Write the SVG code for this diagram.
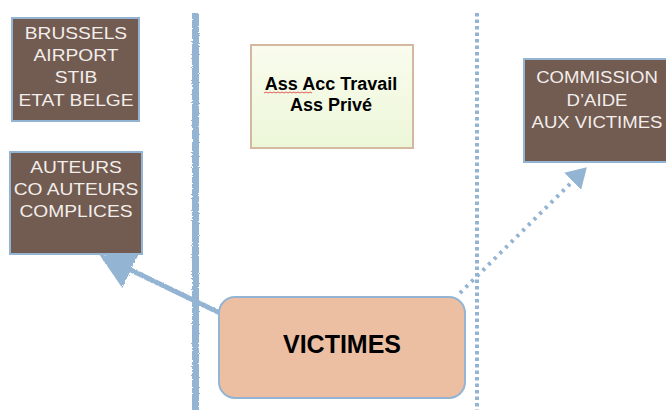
<svg xmlns="http://www.w3.org/2000/svg" width="666" height="410" viewBox="0 0 666 410">
<style>
.brown{fill:#725b50;stroke:#93b4d2;stroke-width:2}
.wt{font-family:"Liberation Sans",Arial,sans-serif;font-size:16px;fill:#f2eeec;text-anchor:middle}
.bt{font-family:"Liberation Sans",Arial,sans-serif;font-weight:bold;fill:#000;text-anchor:middle}
.blue{stroke:#93b4d2;fill:none}
</style>
<defs>
<linearGradient id="g" x1="0" y1="0" x2="0" y2="1"><stop offset="0" stop-color="#fafcee"/><stop offset="1" stop-color="#ecf7d8"/></linearGradient>
<filter id="rough" filterUnits="userSpaceOnUse" x="0" y="0" width="666" height="410"><feTurbulence type="fractalNoise" baseFrequency="0.9" numOctaves="2" seed="3"/><feDisplacementMap in="SourceGraphic" scale="3"/></filter>
<marker id="ah" markerWidth="8" markerHeight="8" refX="6" refY="4" orient="auto" markerUnits="strokeWidth"><path d="M0,0 L7,4 L0,8 z" fill="#93b4d2"/></marker>
<marker id="ah2" markerWidth="6" markerHeight="6" refX="4" refY="3" orient="auto" markerUnits="strokeWidth"><path d="M0,0 L5,3 L0,6 z" fill="#93b4d2"/></marker>
</defs>
<g id="lanes">
<line class="blue" x1="195.5" y1="13" x2="195.5" y2="410" stroke-width="7" filter="url(#rough)"/>
<line class="blue" x1="477" y1="13" x2="477" y2="410" stroke-width="4" stroke-dasharray="3.5 3"/>
</g>
<g id="connectors">
<line class="blue" x1="222" y1="314" x2="104" y2="257" stroke-width="5" marker-end="url(#ah)" filter="url(#rough)"/>
<line class="blue" x1="460" y1="293" x2="584" y2="170" stroke-width="4" stroke-dasharray="3 5" marker-end="url(#ah2)"/>
</g>
<g id="brussels">
<rect class="brown" x="12" y="18" width="127" height="103"/>
<g transform="translate(76,0) scale(1.2,1)">
<text class="wt" x="0" y="39">BRUSSELS</text>
<text class="wt" x="0" y="61">AIRPORT</text>
<text class="wt" x="0" y="83">STIB</text>
<text class="wt" x="0" y="106">ETAT BELGE</text>
</g>
</g>
<g id="auteurs">
<rect class="brown" x="10" y="152" width="132" height="102"/>
<g transform="translate(76,0) scale(1.2,1)">
<text class="wt" x="0" y="173">AUTEURS</text>
<text class="wt" x="0" y="195">CO AUTEURS</text>
<text class="wt" x="0" y="217">COMPLICES</text>
</g>
</g>
<g id="assurances">
<rect x="251" y="45" width="162" height="103" fill="url(#g)" stroke="#d4b9a0" stroke-width="2"/>
<text class="bt" x="331" y="90" font-size="18">Ass Acc Travail</text>
<text class="bt" x="331" y="111" font-size="18">Ass Privé</text>
<path d="M264,93 l2,-1 2,1 2,-1 2,1 2,-1 2,1 2,-1 2,1 2,-1 2,1 2,-1 2,1 2,-1 2,1 2,-1 2,1 2,-1 2,1 2,-1 2,1 2,-1 2,1 2,-1 2,1" fill="none" stroke="#e03030" stroke-width="0.8"/>
</g>
<g id="commission">
<rect class="brown" x="524" y="59" width="145" height="103"/>
<g transform="translate(597,0) scale(1.16,1)">
<text class="wt" x="0" y="83">COMMISSION</text>
<text class="wt" x="0" y="106">D’AIDE</text>
<text class="wt" x="0" y="128">AUX VICTIMES</text>
</g>
</g>
<g id="victimes">
<rect x="219" y="297" width="246" height="101" rx="16" fill="#ecbfa3" stroke="#93b4d2" stroke-width="2"/>
<text class="bt" x="342" y="353" font-size="25">VICTIMES</text>
</g>
</svg>
